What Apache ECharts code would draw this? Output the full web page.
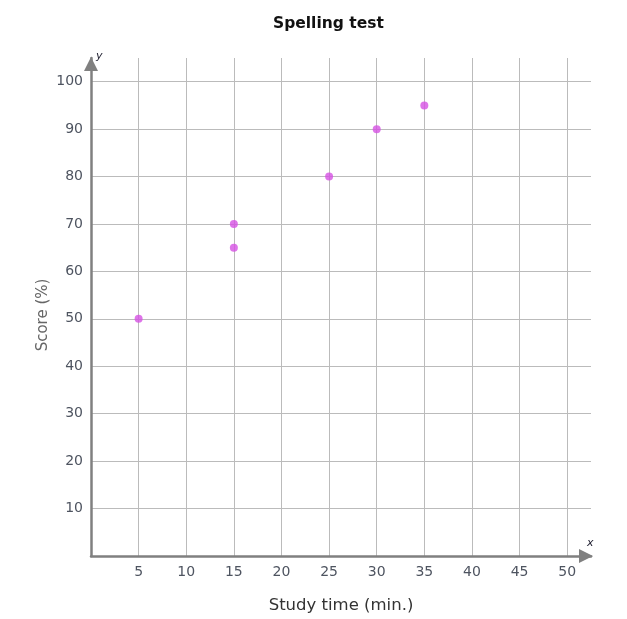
<!DOCTYPE html>
<html>
<head>
<meta charset="utf-8">
<script src="https://cdn.jsdelivr.net/npm/echarts@6/dist/echarts.min.js"></script>
<style>
  html, body { margin: 0; padding: 0; background: #fff; }
  #chart { width: 627px; height: 619px; }
</style>
</head>
<body>
<div id="chart"></div>
<script>
// data
var studyTime = [5, 15, 15, 25, 30, 35];
var score = [50, 65, 70, 80, 90, 95];
var xTicks = [5, 10, 15, 20, 25, 30, 35, 40, 45, 50];
var yTicks = [10, 20, 30, 40, 50, 60, 70, 80, 90, 100];

var chart = echarts.init(document.getElementById('chart'));

var points = studyTime.map(function (t, i) {
  return [t, score[i]];
});

function tickLabel(list) {
  return function (v) {
    return list.indexOf(v) >= 0 ? String(v) : '';
  };
}

var option = {
  animation: false,
  title: {
    text: 'Spelling test',
    left: 268,
    top: 11,
    textStyle: {
      fontFamily: 'DejaVu Sans',
      fontSize: 15.5,
      fontWeight: 'bold',
      color: '#111'
    }
  },
  grid: {
    left: 91,
    right: 36,
    top: 58,
    bottom: 62
  },
  xAxis: {
    type: 'value',
    min: 0,
    max: 52.5,
    interval: 5,
    name: 'Study time (min.)',
    nameLocation: 'middle',
    nameGap: 41,
    nameTextStyle: { fontFamily: 'DejaVu Sans', fontSize: 16.5, color: '#333' },
    axisLine: {
      lineStyle: { color: '#808080', width: 2.5 },
      symbol: ['none', 'triangle'],
      symbolSize: [14, 14],
      symbolOffset: [0, -5]
    },
    axisTick: { show: false },
    axisLabel: {
      margin: 9,
      fontFamily: 'DejaVu Sans',
      fontSize: 14,
      color: '#4e5460',
      formatter: tickLabel(xTicks)
    },
    splitLine: {
      showMinLine: false,
      showMaxLine: false,
      lineStyle: { color: '#bbb', width: 1 }
    }
  },
  yAxis: {
    type: 'value',
    min: 0,
    max: 105,
    interval: 10,
    axisLine: {
      lineStyle: { color: '#808080', width: 2.5 },
      symbol: ['none', 'triangle'],
      symbolSize: [14, 14],
      symbolOffset: [0, -6]
    },
    axisTick: { show: false },
    axisLabel: {
      margin: 8,
      fontFamily: 'DejaVu Sans',
      fontSize: 14,
      color: '#4e5460',
      formatter: tickLabel(yTicks)
    },
    splitLine: {
      showMinLine: false,
      showMaxLine: false,
      lineStyle: { color: '#bbb', width: 1 }
    }
  },
  graphic: [
    // y axis title, placed by hand
    {
      type: 'text',
      x: 43,
      y: 315,
      rotation: Math.PI / 2,
      style: {
        text: 'Score (%)',
        font: '15px DejaVu Sans',
        fill: '#666',
        align: 'center',
        verticalAlign: 'middle'
      }
    },
    {
      type: 'text',
      left: 96,
      top: 51,
      style: { text: 'y', font: 'italic 11px DejaVu Sans', fill: '#223' }
    },
    {
      type: 'text',
      left: 587,
      top: 538,
      style: { text: 'x', font: 'italic 11px DejaVu Sans', fill: '#223' }
    }
  ],
  series: [
    {
      type: 'scatter',
      data: points,
      symbolSize: 8,
      itemStyle: { color: '#d651e3' }
    }
  ]
};

chart.setOption(option);
</script>
</body>
</html>
